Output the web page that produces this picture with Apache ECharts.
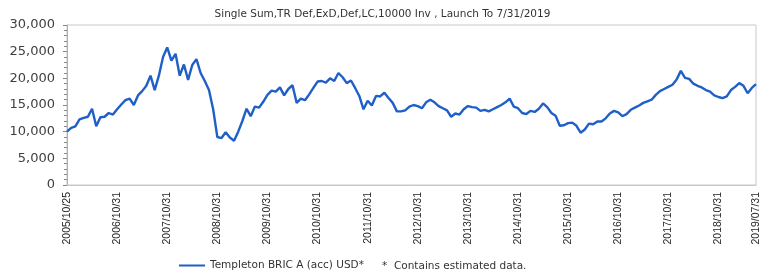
<!DOCTYPE html>
<html>
<head>
<meta charset="utf-8">
<script src="https://cdn.jsdelivr.net/npm/echarts@6/dist/echarts.min.js"></script>
<style>
html,body{margin:0;padding:0;background:#fff;}
#chart{width:765px;height:270px;}
</style>
</head>
<body>
<div id="chart"></div>
<script>
// Month-end dates from launch (2005/10/25) to 2019/07/31
var startYear = 2005, startMonth = 10, monthCount = 166;
var categories = [];
(function(){
  for (var i = 0; i < monthCount; i++) {
    var mm = startMonth - 1 + i;
    var y = startYear + Math.floor(mm / 12);
    var m = (mm % 12) + 1;
    var d = new Date(y, m, 0).getDate();
    if (i === 0) d = 25;
    categories.push(y + '/' + (m < 10 ? '0' + m : m) + '/' + d);
  }
})();

var seriesName = 'Templeton BRIC A (acc) USD*';
var seriesValues = [
  10000,10700,11000,12300,12600,12800,14300,11000,12700,12800,13500,13200,
  14200,15100,15900,16200,15000,16800,17600,18600,20500,17800,20500,24000,
  25800,23300,24600,20500,22600,19700,22500,23600,21000,19500,17800,14200,
  9000,8800,9900,8900,8300,10000,12000,14300,12900,14700,14500,15600,
  16900,17700,17500,18300,16800,18000,18700,15400,16200,15900,17000,18200,
  19400,19500,19200,20000,19500,21000,20200,19100,19600,18200,16700,14200,
  15800,14900,16700,16600,17300,16300,15400,13800,13800,14000,14700,15000,
  14800,14400,15500,16000,15500,14800,14400,14000,12800,13400,13200,14200,
  14800,14600,14500,13900,14100,13800,14200,14600,15000,15500,16200,14700,
  14400,13500,13300,13900,13700,14300,15300,14600,13500,13000,11100,11200,
  11600,11700,11100,9800,10400,11500,11400,11900,11900,12500,13400,13900,
  13600,12900,13300,14100,14500,14900,15400,15700,16000,16900,17600,18000,
  18400,18800,19800,21400,20100,19900,19000,18600,18300,17800,17500,16800,
  16500,16300,16600,17800,18400,19100,18600,17200,18200,18900
];
var labelIndices = [0,12,24,36,48,60,72,84,96,108,120,132,144,156,165];
var titleText = 'Single Sum,TR Def,ExD,Def,LC,10000 Inv , Launch To 7/31/2019';
var noteText = '*  Contains estimated data.';

var chart = echarts.init(document.getElementById('chart'), null, {renderer:'canvas'});
chart.setOption({
  animation: false,
  backgroundColor: '#ffffff',
  title: {
    text: titleText,
    left: 'center',
    top: 4,
    textStyle: {fontFamily: 'DejaVu Sans', fontSize: 10.5, fontWeight: 'normal', color: '#333333'}
  },
  legend: {
    data: [seriesName],
    left: 174,
    top: 258,
    padding: [2, 5],
    icon: 'rect',
    itemWidth: 26,
    itemHeight: 2,
    itemGap: 7,
    textStyle: {fontFamily: 'DejaVu Sans', fontSize: 10.5, color: '#333333'}
  },
  graphic: [{
    type: 'text',
    left: 382,
    top: 261,
    style: {text: noteText, fontFamily: 'DejaVu Sans', fontSize: 10.5, fill: '#333333'}
  }],
  grid: {
    left: 67, right: 9, top: 25, bottom: 85,
    show: true, borderColor: '#c8c8c8', borderWidth: 1, containLabel: false
  },
  xAxis: {
    type: 'category',
    data: categories,
    boundaryGap: false,
    axisLine: {show: true, lineStyle: {color: '#c8c8c8'}},
    axisTick: {show: false},
    splitLine: {show: false},
    axisLabel: {
      rotate: 90,
      margin: 7,
      interval: function(i){ return labelIndices.indexOf(i) >= 0; },
      fontFamily: 'Liberation Sans',
      fontSize: 10.5,
      color: '#262626'
    }
  },
  yAxis: {
    type: 'value',
    min: 0, max: 30000, interval: 5000,
    axisLine: {show: true, lineStyle: {color: '#b0b0b0'}},
    axisTick: {show: true, inside: false, length: 4, lineStyle: {color: '#888888'}},
    minorTick: {show: true, splitNumber: 5, length: 3, lineStyle: {color: '#888888'}},
    splitLine: {show: false},
    axisLabel: {
      margin: 12,
      fontFamily: 'DejaVu Sans',
      fontSize: 13,
      color: '#404040',
      formatter: function(v){ return v.toString().replace(/\B(?=(\d{3})+(?!\d))/g, ','); }
    }
  },
  series: [{
    name: seriesName,
    type: 'line',
    data: seriesValues,
    showSymbol: false,
    symbol: 'none',
    lineStyle: {color: '#1f5fc8', width: 2.4},
    itemStyle: {color: '#1f5fc8'}
  }]
});
</script>
</body>
</html>
